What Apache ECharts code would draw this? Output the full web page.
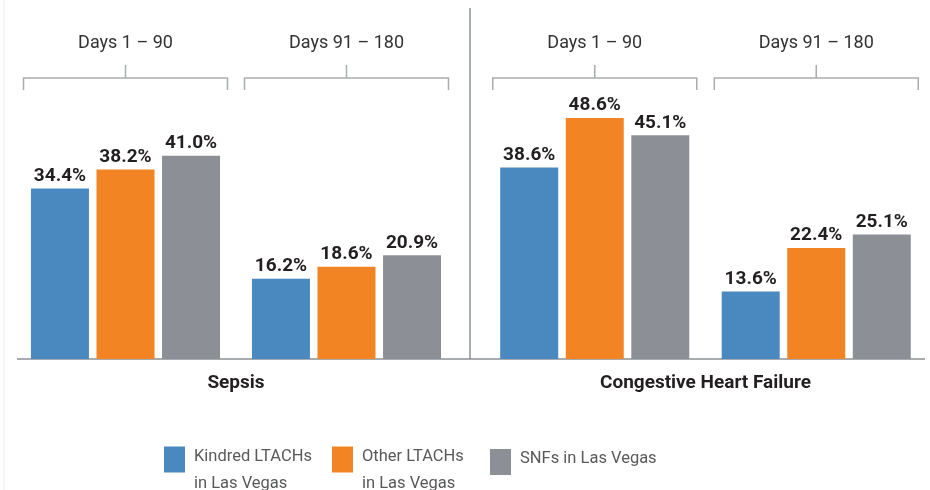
<!doctype html>
<html>
<head>
<meta charset="utf-8">
<title>Readmission rates</title>
<script src="https://cdn.jsdelivr.net/npm/echarts@6/dist/echarts.min.js"></script>
<style>
  html, body { margin: 0; padding: 0; background: #fff; }
  #chart { width: 930px; height: 490px; }
</style>
</head>
<body>
<div id="chart"></div>
<script>
// data
var periods = ['Days 1 – 90', 'Days 91 – 180'];
var conditions = ['Sepsis', 'Congestive Heart Failure'];
var groupNames = ['Kindred LTACHs\nin Las Vegas', 'Other LTACHs\nin Las Vegas', 'SNFs in Las Vegas'];
var colors = ['#4a89c0', '#f28423', '#8c9096'];

var sepsisKindred = [34.4, 16.2];
var sepsisOther   = [38.2, 18.6];
var sepsisSnf     = [41.0, 20.9];
var chfKindred    = [38.6, 13.6];
var chfOther      = [48.6, 22.4];
var chfSnf        = [45.1, 25.1];

var panels = [
  [sepsisKindred, sepsisOther, sepsisSnf],
  [chfKindred, chfOther, chfSnf]
];

var font = "Roboto, 'Liberation Sans', sans-serif";
var lineGrey = '#a9acaf';

var chart = echarts.init(document.getElementById('chart'));

var grids = [
  { left: 15, width: 442, top: 111, bottom: 131 },
  { left: 484, width: 443, top: 111, bottom: 131 }
];

var xAxes = [];
var yAxes = [];
var series = [];
// bottom axes (0,1) carry the bars and condition names
conditions.forEach(function (c, i) {
  xAxes.push({
    type: 'category', gridIndex: i, data: periods,
    axisLine: { show: false }, axisTick: { show: false }, axisLabel: { show: false },
    name: c, nameLocation: 'middle', nameGap: 12,
    nameTextStyle: { fontFamily: font, fontWeight: 'bold', fontSize: 19, color: '#231f20', lineHeight: 24 }
  });
});
// top axes (2,3) only hold the period labels
conditions.forEach(function (c, i) {
  xAxes.push({
    type: 'category', gridIndex: i, data: periods, position: 'top',
    axisLine: { show: false }, axisTick: { show: false },
    axisLabel: { margin: 56, fontFamily: font, fontSize: 18, color: '#333', lineHeight: 24 }
  });
  yAxes.push({ type: 'value', gridIndex: i, min: 0, max: 50, show: false, splitLine: { show: false } });
});

panels.forEach(function (panel, i) {
  panel.forEach(function (vals, k) {
    series.push({
      type: 'bar', name: groupNames[k], xAxisIndex: i, yAxisIndex: i,
      data: vals, barWidth: 58, barGap: '13%',
      itemStyle: { color: colors[k] },
      label: {
        show: true, position: 'top', distance: 3,
        fontFamily: font, fontWeight: 'bold', fontSize: 19, color: '#231f20',
        formatter: function (p) { return p.value.toFixed(1) + '%'; }
      }
    });
  });
});

// one legend per item so each sits where the reference puts it
var legendLeft = [159, 327, 485];
var legends = groupNames.map(function (n, k) {
  var twoLines = n.indexOf('\n') >= 0;
  return {
    data: [n], left: legendLeft[k], top: twoLines ? 422.5 : 444,
    orient: 'horizontal', icon: 'rect', itemWidth: 21, itemHeight: 26,
    selectedMode: false,
    formatter: function (name) {
      var lines = name.split('\n').map(function (l) { return '{t|' + l + '}'; });
      return twoLines ? '{s| }\n' + lines.join('\n') : lines.join('\n') + '\n{e| }';
    },
    textStyle: {
      rich: {
        s: { lineHeight: 21, fontSize: 10 },
        e: { lineHeight: 6, fontSize: 6 },
        t: { fontFamily: font, fontSize: 16.5, color: '#58595b', lineHeight: 27, padding: [0, 0, 0, 4] }
      }
    }
  };
});

chart.setOption({
  animation: false,
  backgroundColor: '#fff',
  grid: grids,
  xAxis: xAxes,
  yAxis: yAxes,
  legend: legends,
  series: series
});

// brackets above each group, placed from the category positions
var baseY = chart.convertToPixel({ yAxisIndex: 0 }, 0);
var graphics = [
  { type: 'line', shape: { x1: 4, y1: 0, x2: 4, y2: 490 }, style: { stroke: '#ececec', lineWidth: 1 } },
  { type: 'line', shape: { x1: 17, y1: baseY, x2: 925, y2: baseY }, style: { stroke: '#8c9095', lineWidth: 1.5 } },
  { type: 'line', shape: { x1: 470, y1: 8, x2: 470, y2: baseY }, style: { stroke: '#8c9095', lineWidth: 1.5 } }
];
conditions.forEach(function (c, i) {
  periods.forEach(function (p) {
    var cx = chart.convertToPixel({ xAxisIndex: i }, p);
    graphics.push({
      type: 'polyline',
      shape: { points: [[cx - 102, 90], [cx - 102, 78], [cx + 102, 78], [cx + 102, 90]] },
      style: { stroke: lineGrey, lineWidth: 1.5, fill: null }
    });
    graphics.push({
      type: 'line', shape: { x1: cx, y1: 78, x2: cx, y2: 65 },
      style: { stroke: lineGrey, lineWidth: 1.5 }
    });
  });
});
chart.setOption({ graphic: graphics });
</script>
</body>
</html>
